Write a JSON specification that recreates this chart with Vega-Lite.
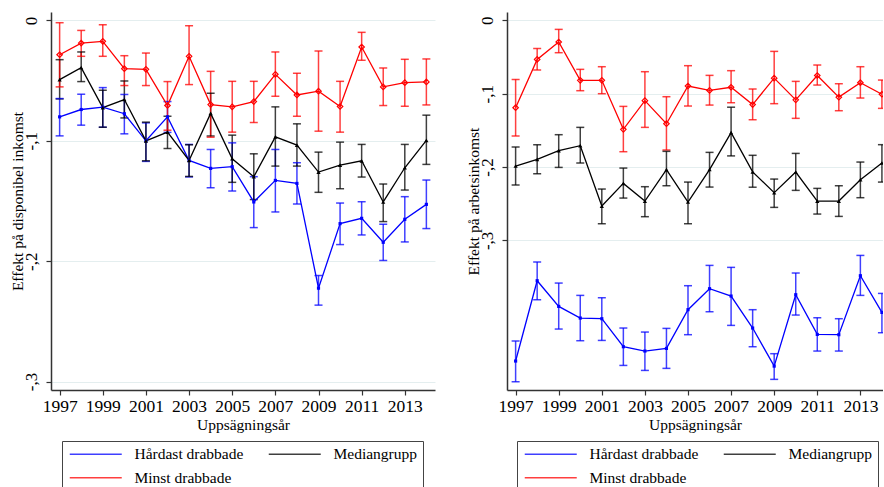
{
  "$schema": "https://vega.github.io/schema/vega-lite/v6.json",
  "padding": {"left": 10, "top": 12, "right": 0, "bottom": 0},
  "spacing": 31,
  "background": "white",
  "config": {
    "font": "Liberation Serif",
    "view": {"stroke": null},
    "axis": {"domainColor": "#333333", "domainWidth": 1.5, "tickColor": "#333333", "tickWidth": 1.2, "labelColor": "black", "titleColor": "black", "titleFontWeight": "normal", "labelFont": "Liberation Serif", "titleFont": "Liberation Serif"},
    "legend": {"labelFont": "Liberation Serif"}
  },
  "resolve": {"legend": {"color": "independent"}},
  "datasets": {
    "left": [
      {"series": "Hårdast drabbade", "year": 1997, "est": -0.0801, "lo": -0.0959, "hi": -0.0649},
      {"series": "Hårdast drabbade", "year": 1998, "est": -0.074, "lo": -0.087, "hi": -0.0613},
      {"series": "Hårdast drabbade", "year": 1999, "est": -0.0721, "lo": -0.0887, "hi": -0.0558},
      {"series": "Hårdast drabbade", "year": 2000, "est": -0.0775, "lo": -0.0942, "hi": -0.0615},
      {"series": "Hårdast drabbade", "year": 2001, "est": -0.1, "lo": -0.1171, "hi": -0.0851},
      {"series": "Hårdast drabbade", "year": 2002, "est": -0.0801, "lo": -0.093, "hi": -0.0674},
      {"series": "Hårdast drabbade", "year": 2003, "est": -0.1163, "lo": -0.13, "hi": -0.103},
      {"series": "Hårdast drabbade", "year": 2004, "est": -0.1229, "lo": -0.139, "hi": -0.1072},
      {"series": "Hårdast drabbade", "year": 2005, "est": -0.1215, "lo": -0.1417, "hi": -0.1017},
      {"series": "Hårdast drabbade", "year": 2006, "est": -0.1508, "lo": -0.1721, "hi": -0.1298},
      {"series": "Hårdast drabbade", "year": 2007, "est": -0.1329, "lo": -0.1591, "hi": -0.1072},
      {"series": "Hårdast drabbade", "year": 2008, "est": -0.1354, "lo": -0.1525, "hi": -0.1182},
      {"series": "Hårdast drabbade", "year": 2009, "est": -0.2224, "lo": -0.2365, "hi": -0.2119},
      {"series": "Hårdast drabbade", "year": 2010, "est": -0.1688, "lo": -0.1862, "hi": -0.1517},
      {"series": "Hårdast drabbade", "year": 2011, "est": -0.1644, "lo": -0.1782, "hi": -0.1506},
      {"series": "Hårdast drabbade", "year": 2012, "est": -0.1843, "lo": -0.1994, "hi": -0.1693},
      {"series": "Hårdast drabbade", "year": 2013, "est": -0.1652, "lo": -0.184, "hi": -0.1464},
      {"series": "Hårdast drabbade", "year": 2014, "est": -0.1528, "lo": -0.1729, "hi": -0.1326},
      {"series": "Mediangrupp", "year": 1997, "est": -0.0492, "lo": -0.0652, "hi": -0.0326},
      {"series": "Mediangrupp", "year": 1998, "est": -0.0392, "lo": -0.0508, "hi": -0.0262},
      {"series": "Mediangrupp", "year": 1999, "est": -0.0724, "lo": -0.0887, "hi": -0.058},
      {"series": "Mediangrupp", "year": 2000, "est": -0.0657, "lo": -0.081, "hi": -0.0503},
      {"series": "Mediangrupp", "year": 2001, "est": -0.1, "lo": -0.1166, "hi": -0.0845},
      {"series": "Mediangrupp", "year": 2002, "est": -0.0928, "lo": -0.1064, "hi": -0.0796},
      {"series": "Mediangrupp", "year": 2003, "est": -0.1163, "lo": -0.1296, "hi": -0.1033},
      {"series": "Mediangrupp", "year": 2004, "est": -0.0772, "lo": -0.096, "hi": -0.0605},
      {"series": "Mediangrupp", "year": 2005, "est": -0.1149, "lo": -0.1345, "hi": -0.0953},
      {"series": "Mediangrupp", "year": 2006, "est": -0.1298, "lo": -0.1488, "hi": -0.1108},
      {"series": "Mediangrupp", "year": 2007, "est": -0.0967, "lo": -0.121, "hi": -0.0718},
      {"series": "Mediangrupp", "year": 2008, "est": -0.1036, "lo": -0.121, "hi": -0.0859},
      {"series": "Mediangrupp", "year": 2009, "est": -0.126, "lo": -0.1428, "hi": -0.1094},
      {"series": "Mediangrupp", "year": 2010, "est": -0.1202, "lo": -0.1398, "hi": -0.1011},
      {"series": "Mediangrupp", "year": 2011, "est": -0.1166, "lo": -0.1301, "hi": -0.103},
      {"series": "Mediangrupp", "year": 2012, "est": -0.1508, "lo": -0.1671, "hi": -0.1359},
      {"series": "Mediangrupp", "year": 2013, "est": -0.1224, "lo": -0.1409, "hi": -0.103},
      {"series": "Mediangrupp", "year": 2014, "est": -0.0997, "lo": -0.1196, "hi": -0.0787},
      {"series": "Minst drabbade", "year": 1997, "est": -0.0285, "lo": -0.0552, "hi": -0.0019},
      {"series": "Minst drabbade", "year": 1998, "est": -0.0188, "lo": -0.0298, "hi": -0.0083},
      {"series": "Minst drabbade", "year": 1999, "est": -0.0174, "lo": -0.0298, "hi": -0.0036},
      {"series": "Minst drabbade", "year": 2000, "est": -0.0401, "lo": -0.0541, "hi": -0.0293},
      {"series": "Minst drabbade", "year": 2001, "est": -0.0406, "lo": -0.0541, "hi": -0.0271},
      {"series": "Minst drabbade", "year": 2002, "est": -0.0707, "lo": -0.0912, "hi": -0.0508},
      {"series": "Minst drabbade", "year": 2003, "est": -0.0298, "lo": -0.0533, "hi": -0.0044},
      {"series": "Minst drabbade", "year": 2004, "est": -0.0699, "lo": -0.097, "hi": -0.0423},
      {"series": "Minst drabbade", "year": 2005, "est": -0.0718, "lo": -0.0928, "hi": -0.0506},
      {"series": "Minst drabbade", "year": 2006, "est": -0.0674, "lo": -0.0848, "hi": -0.0506},
      {"series": "Minst drabbade", "year": 2007, "est": -0.0448, "lo": -0.063, "hi": -0.0262},
      {"series": "Minst drabbade", "year": 2008, "est": -0.0619, "lo": -0.0796, "hi": -0.0439},
      {"series": "Minst drabbade", "year": 2009, "est": -0.0588, "lo": -0.092, "hi": -0.0254},
      {"series": "Minst drabbade", "year": 2010, "est": -0.0715, "lo": -0.0928, "hi": -0.0506},
      {"series": "Minst drabbade", "year": 2011, "est": -0.0221, "lo": -0.0331, "hi": -0.0099},
      {"series": "Minst drabbade", "year": 2012, "est": -0.0552, "lo": -0.0707, "hi": -0.0395},
      {"series": "Minst drabbade", "year": 2013, "est": -0.0517, "lo": -0.0713, "hi": -0.0323},
      {"series": "Minst drabbade", "year": 2014, "est": -0.0511, "lo": -0.0702, "hi": -0.032}
    ],
    "right": [
      {"series": "Hårdast drabbade", "year": 1997, "est": -0.4645, "lo": -0.4927, "hi": -0.4373},
      {"series": "Hårdast drabbade", "year": 1998, "est": -0.355, "lo": -0.3809, "hi": -0.3295},
      {"series": "Hårdast drabbade", "year": 1999, "est": -0.39, "lo": -0.4209, "hi": -0.3582},
      {"series": "Hårdast drabbade", "year": 2000, "est": -0.4059, "lo": -0.4368, "hi": -0.375},
      {"series": "Hårdast drabbade", "year": 2001, "est": -0.4068, "lo": -0.4364, "hi": -0.3782},
      {"series": "Hårdast drabbade", "year": 2002, "est": -0.445, "lo": -0.4705, "hi": -0.4195},
      {"series": "Hårdast drabbade", "year": 2003, "est": -0.4509, "lo": -0.4773, "hi": -0.425},
      {"series": "Hårdast drabbade", "year": 2004, "est": -0.4473, "lo": -0.4745, "hi": -0.42},
      {"series": "Hårdast drabbade", "year": 2005, "est": -0.3945, "lo": -0.4286, "hi": -0.3618},
      {"series": "Hårdast drabbade", "year": 2006, "est": -0.3659, "lo": -0.3973, "hi": -0.3341},
      {"series": "Hårdast drabbade", "year": 2007, "est": -0.3759, "lo": -0.4159, "hi": -0.3368},
      {"series": "Hårdast drabbade", "year": 2008, "est": -0.4195, "lo": -0.445, "hi": -0.3945},
      {"series": "Hårdast drabbade", "year": 2009, "est": -0.4714, "lo": -0.4895, "hi": -0.4545},
      {"series": "Hårdast drabbade", "year": 2010, "est": -0.3741, "lo": -0.4018, "hi": -0.3445},
      {"series": "Hårdast drabbade", "year": 2011, "est": -0.4282, "lo": -0.4509, "hi": -0.4055},
      {"series": "Hårdast drabbade", "year": 2012, "est": -0.4286, "lo": -0.4509, "hi": -0.4068},
      {"series": "Hårdast drabbade", "year": 2013, "est": -0.3482, "lo": -0.375, "hi": -0.3205},
      {"series": "Hårdast drabbade", "year": 2014, "est": -0.3982, "lo": -0.4259, "hi": -0.3723},
      {"series": "Mediangrupp", "year": 1997, "est": -0.1986, "lo": -0.2245, "hi": -0.1727},
      {"series": "Mediangrupp", "year": 1998, "est": -0.1895, "lo": -0.2091, "hi": -0.1695},
      {"series": "Mediangrupp", "year": 1999, "est": -0.1777, "lo": -0.2005, "hi": -0.1559},
      {"series": "Mediangrupp", "year": 2000, "est": -0.1709, "lo": -0.1945, "hi": -0.1459},
      {"series": "Mediangrupp", "year": 2001, "est": -0.2532, "lo": -0.2773, "hi": -0.23},
      {"series": "Mediangrupp", "year": 2002, "est": -0.2223, "lo": -0.2423, "hi": -0.2014},
      {"series": "Mediangrupp", "year": 2003, "est": -0.2464, "lo": -0.2677, "hi": -0.2268},
      {"series": "Mediangrupp", "year": 2004, "est": -0.2036, "lo": -0.2255, "hi": -0.1786},
      {"series": "Mediangrupp", "year": 2005, "est": -0.2477, "lo": -0.2773, "hi": -0.2205},
      {"series": "Mediangrupp", "year": 2006, "est": -0.2034, "lo": -0.2273, "hi": -0.18},
      {"series": "Mediangrupp", "year": 2007, "est": -0.153, "lo": -0.1848, "hi": -0.1184},
      {"series": "Mediangrupp", "year": 2008, "est": -0.2066, "lo": -0.2275, "hi": -0.184},
      {"series": "Mediangrupp", "year": 2009, "est": -0.235, "lo": -0.255, "hi": -0.2164},
      {"series": "Mediangrupp", "year": 2010, "est": -0.2068, "lo": -0.2318, "hi": -0.1814},
      {"series": "Mediangrupp", "year": 2011, "est": -0.2464, "lo": -0.2641, "hi": -0.2291},
      {"series": "Mediangrupp", "year": 2012, "est": -0.2464, "lo": -0.2673, "hi": -0.2255},
      {"series": "Mediangrupp", "year": 2013, "est": -0.2173, "lo": -0.2418, "hi": -0.1932},
      {"series": "Mediangrupp", "year": 2014, "est": -0.1945, "lo": -0.2205, "hi": -0.1695},
      {"series": "Minst drabbade", "year": 1997, "est": -0.1191, "lo": -0.1577, "hi": -0.0805},
      {"series": "Minst drabbade", "year": 1998, "est": -0.0532, "lo": -0.0677, "hi": -0.0382},
      {"series": "Minst drabbade", "year": 1999, "est": -0.0295, "lo": -0.0441, "hi": -0.0123},
      {"series": "Minst drabbade", "year": 2000, "est": -0.0818, "lo": -0.0959, "hi": -0.0668},
      {"series": "Minst drabbade", "year": 2001, "est": -0.0818, "lo": -0.1, "hi": -0.0632},
      {"series": "Minst drabbade", "year": 2002, "est": -0.1486, "lo": -0.1791, "hi": -0.1173},
      {"series": "Minst drabbade", "year": 2003, "est": -0.1095, "lo": -0.1459, "hi": -0.07},
      {"series": "Minst drabbade", "year": 2004, "est": -0.1409, "lo": -0.1768, "hi": -0.1041},
      {"series": "Minst drabbade", "year": 2005, "est": -0.0895, "lo": -0.1168, "hi": -0.0618},
      {"series": "Minst drabbade", "year": 2006, "est": -0.0955, "lo": -0.1155, "hi": -0.075},
      {"series": "Minst drabbade", "year": 2007, "est": -0.0912, "lo": -0.1123, "hi": -0.0686},
      {"series": "Minst drabbade", "year": 2008, "est": -0.1148, "lo": -0.1355, "hi": -0.0936},
      {"series": "Minst drabbade", "year": 2009, "est": -0.0788, "lo": -0.1136, "hi": -0.0423},
      {"series": "Minst drabbade", "year": 2010, "est": -0.1084, "lo": -0.1336, "hi": -0.0832},
      {"series": "Minst drabbade", "year": 2011, "est": -0.0752, "lo": -0.0882, "hi": -0.0609},
      {"series": "Minst drabbade", "year": 2012, "est": -0.1047, "lo": -0.1232, "hi": -0.0864},
      {"series": "Minst drabbade", "year": 2013, "est": -0.085, "lo": -0.1059, "hi": -0.0632},
      {"series": "Minst drabbade", "year": 2014, "est": -0.1007, "lo": -0.12, "hi": -0.0814}
    ]
  },
  "hconcat": [
    {
      "width": 384,
      "height": 378,
      "data": {"name": "left"},
      "encoding": {
        "x": {"field": "year", "type": "quantitative", "scale": {"domain": [1996.6, 2014.4], "nice": false, "zero": false},
          "axis": {"values": [1997, 1999, 2001, 2003, 2005, 2007, 2009, 2011, 2013], "format": "d", "grid": false, "labelFontSize": 17.5, "tickSize": 5, "labelPadding": 2, "title": "Uppsägningsår", "titleFontSize": 15.5, "titlePadding": 3, "labelFlush": false, "labelOverlap": false}},
        "color": {"field": "series", "type": "nominal", "scale": {"domain": ["Hårdast drabbade", "Mediangrupp", "Minst drabbade"], "range": ["#0000ff", "#000000", "#ff0000"]}}
      },
      "layer": [
        {
          "mark": {"type": "rule", "strokeWidth": 1.5, "opacity": 0.75},
          "encoding": {
            "y": {"field": "lo", "type": "quantitative", "scale": {"domain": [-0.307, 0.007], "nice": false, "zero": false},
              "axis": {"values": [0, -0.1, -0.2, -0.3], "grid": true, "gridColor": "#e4eeef", "gridWidth": 1, "labelExpr": "datum.value == 0 ? '0' : '-,' + round(abs(datum.value)*10)", "labelAngle": 270, "labelAlign": "center", "labelBaseline": "bottom", "labelFontSize": 17, "labelPadding": 6, "tickSize": 5, "title": "Effekt på disponibel inkomst", "titleFontSize": 15.5, "titleX": -33.5, "titleY": 189, "titleAngle": 270, "titleAlign": "center", "titleBaseline": "middle"}},
            "y2": {"field": "hi"}
          }
        },
        {
          "mark": {"type": "tick", "orient": "horizontal", "size": 8, "thickness": 1.5, "opacity": 0.75},
          "encoding": {"y": {"field": "lo", "type": "quantitative"}}
        },
        {
          "mark": {"type": "tick", "orient": "horizontal", "size": 8, "thickness": 1.5, "opacity": 0.75},
          "encoding": {"y": {"field": "hi", "type": "quantitative"}}
        },
        {
          "mark": {"type": "line", "strokeWidth": 1.3},
          "encoding": {
            "y": {"field": "est", "type": "quantitative"},
            "color": {"field": "series", "type": "nominal", "legend": {"orient": "none", "legendX": 11, "legendY": 429, "direction": "horizontal", "columns": 2, "symbolType": "M-1,0H9.4", "symbolSize": 100, "symbolStrokeWidth": 1.5, "labelFontSize": 15.5, "labelOffset": 52, "padding": 5, "rowPadding": 7, "columnPadding": 21, "strokeColor": "#444444", "fillColor": "white", "title": null, "labelLimit": 0}}
          }
        },
        {
          "transform": [{"filter": "datum.series != 'Minst drabbade'"}],
          "mark": {"type": "point", "filled": true, "opacity": 1},
          "encoding": {
            "y": {"field": "est", "type": "quantitative"},
            "shape": {"field": "series", "type": "nominal", "scale": {"domain": ["Hårdast drabbade", "Mediangrupp"], "range": ["square", "triangle-up"]}, "legend": null},
            "size": {"field": "series", "type": "nominal", "scale": {"domain": ["Hårdast drabbade", "Mediangrupp"], "range": [10, 18]}, "legend": null}
          }
        },
        {
          "transform": [{"filter": "datum.series == 'Minst drabbade'"}],
          "mark": {"type": "point", "shape": "diamond", "filled": false, "size": 30, "strokeWidth": 1.2, "opacity": 1},
          "encoding": {"y": {"field": "est", "type": "quantitative"}}
        }
      ]
    },
    {
      "width": 376,
      "height": 378,
      "data": {"name": "right"},
      "encoding": {
        "x": {"field": "year", "type": "quantitative", "scale": {"domain": [1996.6, 2014.05], "nice": false, "zero": false},
          "axis": {"values": [1997, 1999, 2001, 2003, 2005, 2007, 2009, 2011, 2013], "format": "d", "grid": false, "labelFontSize": 17.5, "tickSize": 5, "labelPadding": 2, "title": "Uppsägningsår", "titleFontSize": 15.5, "titlePadding": 3, "labelFlush": false, "labelOverlap": false}},
        "color": {"field": "series", "type": "nominal", "scale": {"domain": ["Hårdast drabbade", "Mediangrupp", "Minst drabbade"], "range": ["#0000ff", "#000000", "#ff0000"]}}
      },
      "layer": [
        {
          "mark": {"type": "rule", "strokeWidth": 1.5, "opacity": 0.75, "clip": true},
          "encoding": {
            "y": {"field": "lo", "type": "quantitative", "scale": {"domain": [-0.504, 0.0114], "nice": false, "zero": false},
              "axis": {"values": [0, -0.1, -0.2, -0.3], "grid": true, "gridColor": "#e4eeef", "gridWidth": 1, "labelExpr": "datum.value == 0 ? '0' : '-,' + round(abs(datum.value)*10)", "labelAngle": 270, "labelAlign": "center", "labelBaseline": "bottom", "labelFontSize": 17, "labelPadding": 6, "tickSize": 5, "title": "Effekt på arbetsinkomst", "titleFontSize": 15.5, "titleX": -33.5, "titleY": 189, "titleAngle": 270, "titleAlign": "center", "titleBaseline": "middle"}},
            "y2": {"field": "hi"}
          }
        },
        {
          "mark": {"type": "tick", "orient": "horizontal", "size": 8, "thickness": 1.5, "opacity": 0.75, "clip": true},
          "encoding": {"y": {"field": "lo", "type": "quantitative"}}
        },
        {
          "mark": {"type": "tick", "orient": "horizontal", "size": 8, "thickness": 1.5, "opacity": 0.75, "clip": true},
          "encoding": {"y": {"field": "hi", "type": "quantitative"}}
        },
        {
          "mark": {"type": "line", "strokeWidth": 1.3, "clip": true},
          "encoding": {
            "y": {"field": "est", "type": "quantitative"},
            "color": {"field": "series", "type": "nominal", "legend": {"orient": "none", "legendX": 10, "legendY": 429, "direction": "horizontal", "columns": 2, "symbolType": "M-1,0H9.4", "symbolSize": 100, "symbolStrokeWidth": 1.5, "labelFontSize": 15.5, "labelOffset": 52, "padding": 5, "rowPadding": 7, "columnPadding": 21, "strokeColor": "#444444", "fillColor": "white", "title": null, "labelLimit": 0}}
          }
        },
        {
          "transform": [{"filter": "datum.series != 'Minst drabbade'"}],
          "mark": {"type": "point", "filled": true, "opacity": 1, "clip": true},
          "encoding": {
            "y": {"field": "est", "type": "quantitative"},
            "shape": {"field": "series", "type": "nominal", "scale": {"domain": ["Hårdast drabbade", "Mediangrupp"], "range": ["square", "triangle-up"]}, "legend": null},
            "size": {"field": "series", "type": "nominal", "scale": {"domain": ["Hårdast drabbade", "Mediangrupp"], "range": [10, 18]}, "legend": null}
          }
        },
        {
          "transform": [{"filter": "datum.series == 'Minst drabbade'"}],
          "mark": {"type": "point", "shape": "diamond", "filled": false, "size": 30, "strokeWidth": 1.2, "opacity": 1, "clip": true},
          "encoding": {"y": {"field": "est", "type": "quantitative"}}
        }
      ]
    }
  ]
}
